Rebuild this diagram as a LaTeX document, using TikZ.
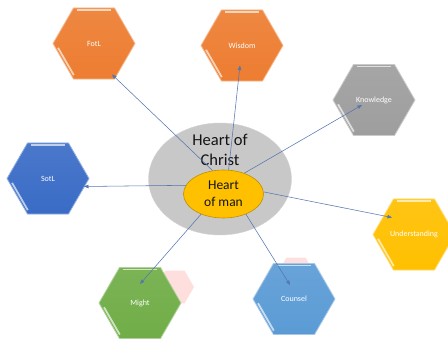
\documentclass[tikz,border=0pt]{standalone}
\usepackage{fontspec}
\setmainfont{Carlito}
\usetikzlibrary{arrows.meta,shapes.geometric,calc}

\definecolor{orangecol}{RGB}{237,125,49}
\definecolor{graycol}{RGB}{158,158,158}
\definecolor{bluecol}{RGB}{58,108,198}
\definecolor{goldcol}{RGB}{255,192,0}
\definecolor{greencol}{RGB}{112,173,71}
\definecolor{skycol}{RGB}{91,155,213}
\definecolor{christcol}{RGB}{200,200,200}
\definecolor{mancol}{RGB}{255,192,0}
\definecolor{linkcol}{RGB}{86,118,176}
\definecolor{textcol}{RGB}{20,20,20}

% light strips on the top and lower-left edges of a hexagon
\newcommand\hexbevel[1]{%
  \draw[bevel] ($(#1.120)!.08!(#1.60)+(0,2.5)$) -- ($(#1.120)!.92!(#1.60)+(0,2.5)$);
  \draw[bevel] ($(#1.180)!.12!(#1.240)+(3,0)$) -- ($(#1.180)!.88!(#1.240)+(3,0)$);}

\begin{document}
\begin{tikzpicture}[x=1pt,y=-1pt,
  hexa/.style={regular polygon,regular polygon sides=6,minimum size=82pt,inner sep=0pt,
    top color=#1!92!white,bottom color=#1,draw=#1!55!white,line width=0.8pt,
    text=white,font=\fontsize{8}{9}\selectfont},
  ghost/.style={regular polygon,regular polygon sides=6,minimum size=38pt,inner sep=0pt,fill=red!13,draw=none},
  bevel/.style={draw=white,opacity=.65,line width=1.8pt},
  link/.style={draw=linkcol,line width=0.55pt,-{Triangle[length=4.5pt,width=3.5pt]}}]
  \useasboundingbox (0,0) rectangle (448,344);
  \clip (0,0) rectangle (448,344);
  % faint shapes behind
  \node[ghost] (mightghost) at (175,287) {};
  \node[ghost] (counselghost) at (296,274) {};
  % hexagons
  \node[hexa=orangecol] (fotl) at (94,43.5) {FotL};
  \node[hexa=orangecol] (wisdom) at (242,45.5) {Wisdom};
  \node[hexa=graycol] (knowledge) at (374,100) {Knowledge};
  \node[hexa=bluecol] (sotl) at (48,178.5) {SotL};
  \node[hexa=goldcol] (understanding) at (414,234.5) {Understanding};
  \node[hexa=greencol] (might) at (140,303) {Might};
  \node[hexa=skycol] (counsel) at (294,299) {Counsel};
  \foreach \h in {fotl,wisdom,knowledge,sotl,understanding,might,counsel}{\hexbevel{\h}}
  % centre
  \node[ellipse,fill=christcol,draw=christcol!80!white,minimum width=143pt,minimum height=112pt] (christ) at (220,179) {};
  \node[font=\fontsize{16.5}{20}\selectfont,align=center,text=textcol] (christlbl) at (220,149.5) {Heart of\\Christ};
  \node[ellipse,fill=mancol,draw=mancol!75!black,line width=0.6pt,minimum width=80pt,minimum height=48pt,
    inner sep=0pt,font=\fontsize{13.5}{17}\selectfont,align=center,text=textcol] (man) at (223.5,194) {Heart\\of man};
  % links
  \draw[link] (man.115) -- ([shift={(18,31)}]fotl.center);
  \draw[link] (man.78) -- ([shift={(-2,20)}]wisdom.center);
  \draw[link] (man.45) -- ([shift={(-12,5)}]knowledge.center);
  \draw[link] (man.167) -- ([shift={(36,8)}]sotl.center);
  \draw[link] (man.3) -- ([shift={(-22,-17)}]understanding.center);
  \draw[link] (man.222) -- ([shift={(0,-19)}]might.center);
  \draw[link] (man.318) -- ([shift={(-4,-14)}]counsel.center);
\end{tikzpicture}
\end{document}
